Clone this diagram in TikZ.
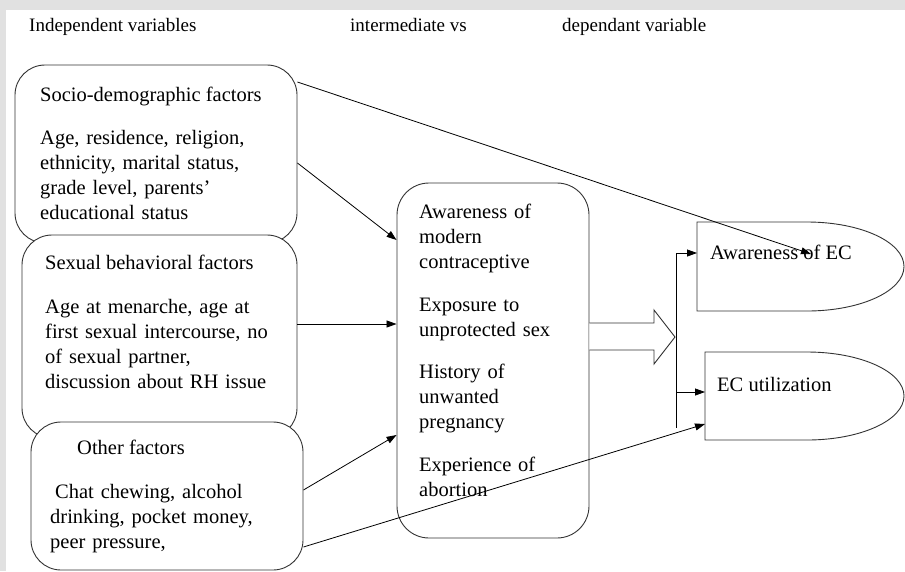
\documentclass[tikz,border=0pt]{standalone}
\usepackage{fontspec}
\setmainfont{Liberation Serif}
\usetikzlibrary{arrows.meta,calc}
\definecolor{bgray}{HTML}{E1E1E1}
\definecolor{ink}{HTML}{333333}
\begin{document}
\begin{tikzpicture}[x=1pt,y=-1pt,
  box/.style={draw=ink, line width=0.9pt, fill=white, rounded corners=30pt, inner sep=0pt},
  body/.style={anchor=base west, inner sep=0pt, text width=260pt, align=left, font=\fontsize{20.5}{25}\selectfont},
  lbl/.style={anchor=base west, inner sep=0pt, font=\fontsize{20.5}{25}\selectfont},
  head/.style={anchor=base west, inner sep=0pt, font=\fontsize{19}{23}\selectfont},
  conn/.style={draw=black, line width=0.8pt, -{Triangle[length=10pt,width=7pt]}},
  plain/.style={draw=black, line width=0.8pt},
  dshape/.style={draw=ink, line width=0.9pt, fill=white},
  hollow/.style={draw=ink, line width=0.9pt, fill=white, line join=miter}
  ]
\useasboundingbox (0,0) rectangle (905,571);
\fill[bgray] (0,0) rectangle (905,571);
\fill[white] (6,10) rectangle (905,571);

% headings
\node[head] (hind) at (29,31) {Independent variables};
\node[head] (hint) at (350,31) {intermediate vs};
\node[head] (hdep) at (562,31) {dependant variable};

% left boxes
\node[box, minimum width=282pt, minimum height=178pt] (box1) at (156,154) {};
\node[box, minimum width=275pt, minimum height=203pt] (box2) at (159.5,336.5) {};
\node[box, minimum width=272pt, minimum height=148pt] (box3) at (167,496) {};
\node[box, rounded corners=32pt, minimum width=192pt, minimum height=355pt] (mid) at (493,360.5) {};

\node[lbl] (t1a) at (40,101) {Socio-demographic factors};
\node[body] (t1b) at (40,144) {Age, residence, religion,\\ ethnicity, marital status,\\ grade level, parents’\\ educational status};
\node[lbl] (t2a) at (45,269) {Sexual behavioral factors};
\node[body] (t2b) at (45,313) {Age at menarche, age at\\ first sexual intercourse, no\\ of sexual partner,\\ discussion about RH issue};
\node[lbl] (t3a) at (77,454) {Other factors};
\node[body] (t3b) at (50,498) {\hspace*{5pt}Chat chewing, alcohol\\ drinking, pocket money,\\ peer pressure,};
\node[body, text width=170pt] (tm) at (419,218) {Awareness of\\ modern\\ contraceptive\\[18pt]
Exposure to\\ unprotected sex\\[17pt]
History of\\ unwanted\\ pregnancy\\[18pt]
Experience of\\ abortion};

% right D-shapes
\draw[dshape] (697,222) -- (807,222) arc[start angle=90, end angle=-90, x radius=97pt, y radius=44.5pt] -- (697,311) -- cycle;
\draw[dshape] (705,352) -- (807,352) arc[start angle=90, end angle=-90, x radius=97pt, y radius=44pt] -- (705,440) -- cycle;
\node[lbl] (aw) at (710,259.5) {Awareness of EC};
\node[lbl] (ecu) at (717,391) {EC utilization};

\coordinate (awL) at (697,253);
\coordinate (awIn) at (811,254);
\coordinate (ecL) at (705,392);
\coordinate (ecL2) at (705,424);
\coordinate (vtop) at (676,253);
\coordinate (vmid) at (676,392);
\coordinate (vbot) at (676,428);

% hollow arrow
\draw[hollow] (mid.east |- 0,323) -- (654,323) -- (654,310) -- (675,337) -- (654,364) -- (654,350) -- (mid.east |- 0,350);

% connectors
\draw[conn] (box1.east |- 0,163) -- (mid.west |- 0,240);
\draw[conn] (box2.east |- 0,324) -- (mid.west |- 0,324);
\draw[conn] (box3.east |- 0,490) -- (mid.west |- 0,435);
\draw[conn] (box3.east |- 0,547) -- (ecL2);
\draw[conn] (box1.east |- 0,82) -- (awIn);
\draw[plain] (vtop) -- (vbot);
\draw[conn] (vtop) -- (awL);
\draw[conn] (vmid) -- (ecL);
\end{tikzpicture}
\end{document}
